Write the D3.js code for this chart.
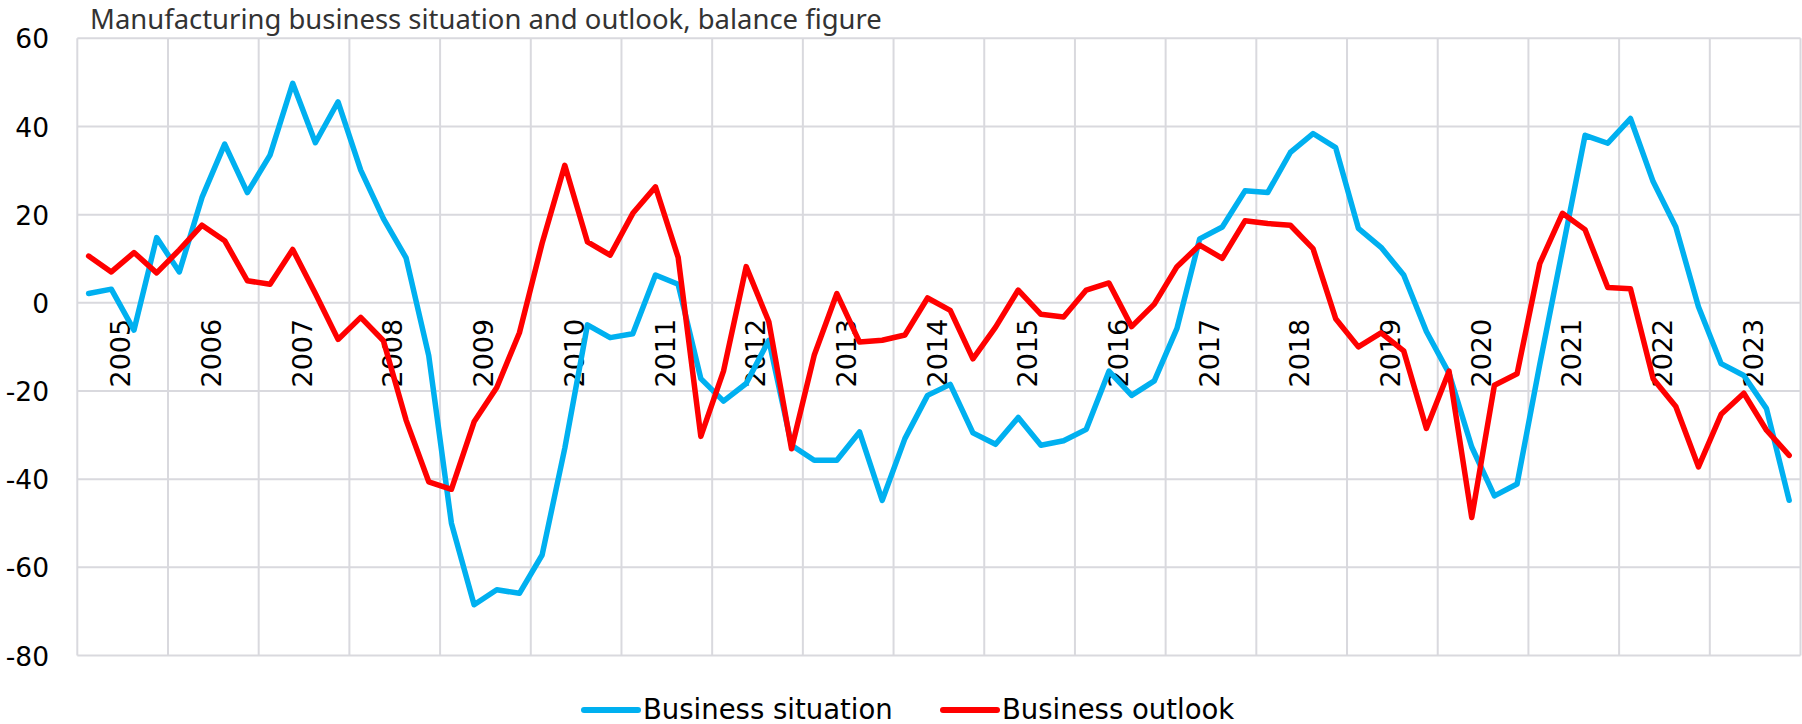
<!DOCTYPE html>
<html>
<head>
<meta charset="utf-8">
<script src="https://cdn.jsdelivr.net/npm/d3@7"></script>
<style>
  html, body { margin: 0; padding: 0; background: #ffffff; }
  svg { display: block; }
</style>
</head>
<body>
<svg id="chart" width="1802" height="724"></svg>
<script>
// ---------- data ----------
const years = ["2005","2006","2007","2008","2009","2010","2011","2012","2013","2014",
               "2015","2016","2017","2018","2019","2020","2021","2022","2023"];
const quarterNames = ["Q1","Q2","Q3","Q4"];

// Business situation (balance figure), quarterly 2005Q1 - 2023Q4
const situation = [
   2.1,   3.1,  -6.2,  14.8,    7.0,  23.9,  36.0,  25.0,
  33.5,  49.8,  36.3,  45.6,   30.1,  19.1,  10.2, -12.0,
 -50.0, -68.5, -65.1, -65.9,  -57.2, -33.0,  -5.0,  -7.9,
  -7.0,   6.3,   4.2, -17.2,  -22.3, -18.3,  -8.5, -32.3,
 -35.7, -35.7, -29.3, -44.8,  -30.8, -21.0, -18.5, -29.5,
 -32.1, -26.0, -32.3, -31.3,  -28.7, -15.5, -21.0, -17.7,
  -5.8,  14.5,  17.2,  25.4,   25.0,  34.1,  38.4,  35.2,
  16.9,  12.6,   6.3,  -6.5,  -16.0, -32.7, -43.8, -41.1,
 -14.0,  12.0,  38.0,  36.2,   41.8,  27.5,  17.2,  -0.9,
 -13.8, -16.5, -24.0, -44.8
];

// Business outlook (balance figure), quarterly 2005Q1 - 2023Q4
const outlook = [
  10.6,   7.0,  11.4,   6.8,   12.0,  17.6,  14.1,   5.0,
   4.2,  12.1,   2.1,  -8.3,   -3.3,  -8.6, -26.6, -40.6,
 -42.3, -27.0, -19.2,  -6.8,   13.5,  31.2,  13.8,  10.8,
  20.3,  26.3,  10.3, -30.3,  -15.5,   8.2,  -4.3, -33.1,
 -11.9,   2.1,  -8.9,  -8.5,   -7.3,   1.1,  -1.7, -12.7,
  -5.5,   2.9,  -2.6,  -3.2,    2.9,   4.5,  -5.4,  -0.3,
   8.2,  13.1,  10.1,  18.6,   18.0,  17.6,  12.3,  -3.6,
 -10.0,  -6.8, -10.9, -28.5,  -15.5, -48.7, -18.7, -16.1,
   8.9,  20.3,  16.6,   3.5,    3.2, -17.2, -23.5, -37.2,
 -25.3, -20.5, -28.9, -34.6
];

const yTicks = [-80, -60, -40, -20, 0, 20, 40, 60];
const seriesNames = ["Business situation", "Business outlook"];
const seriesColors = ["#00b0f0", "#ff0000"];
const titleText = "Manufacturing business situation and outlook, balance figure";

// ---------- layout ----------
const plot = { left: 77.3, right: 1800.5, top: 38.3, bottom: 655.5 };
const svg = d3.select("#chart");

const quarters = [];
years.forEach(y => quarterNames.forEach(q => quarters.push(y + q)));

const x = d3.scaleBand().domain(quarters).range([plot.left, plot.right]).padding(0);
const xYear = d3.scaleBand().domain(years).range([plot.left, plot.right]).padding(0);
const y = d3.scaleLinear().domain([-80, 60]).range([plot.bottom, plot.top]);

const gridColor = "#d9d9de";

// horizontal gridlines
svg.append("g").selectAll("line").data(yTicks).join("line")
  .attr("x1", plot.left).attr("x2", plot.right)
  .attr("y1", d => y(d)).attr("y2", d => y(d))
  .attr("stroke", gridColor).attr("stroke-width", 2);

// vertical gridlines at year boundaries
const yearEdges = years.map(d => xYear(d)).concat([plot.right]);
svg.append("g").selectAll("line").data(yearEdges).join("line")
  .attr("x1", d => d).attr("x2", d => d)
  .attr("y1", plot.top).attr("y2", plot.bottom)
  .attr("stroke", gridColor).attr("stroke-width", 2);

// y axis labels
const yAxis = d3.axisLeft(y).tickValues(yTicks).tickSize(0).tickPadding(0).tickFormat(d => String(d));
const gy = svg.append("g").attr("transform", `translate(${49},0)`).call(yAxis);
gy.select(".domain").remove();
gy.selectAll("text")
  .attr("font-family", "'DejaVu Sans', Verdana, sans-serif")
  .attr("font-size", 26.5).attr("fill", "#000").attr("dy", "0.36em");

// x axis labels (year, rotated), positioned at the zero line
const xAxis = d3.axisBottom(xYear).tickSize(0).tickPadding(0);
const gx = svg.append("g").attr("transform", `translate(-2,${y(0)})`).call(xAxis);
gx.select(".domain").remove();
gx.selectAll("text")
  .attr("font-family", "'DejaVu Sans', Verdana, sans-serif")
  .attr("font-size", 27).attr("fill", "#000")
  .attr("transform", "rotate(-90)")
  .attr("text-anchor", "end")
  .attr("x", -16).attr("y", 0).attr("dy", "0.36em");

// title
const title = svg.append("text")
  .attr("x", 90).attr("y", 28.5)
  .attr("font-family", "'Noto Sans', 'Open Sans', sans-serif")
  .attr("font-size", 26).attr("fill", "#333333")
  .text(titleText);
const tl = title.node().getComputedTextLength();
title.attr("font-size", 26 * 792 / tl);

// lines
const line = d3.line()
  .x((d, i) => x(quarters[i]) + x.bandwidth() / 2)
  .y(d => y(d));

[situation, outlook].forEach((s, k) => {
  svg.append("path").datum(s)
    .attr("d", line)
    .attr("fill", "none")
    .attr("stroke", seriesColors[k])
    .attr("stroke-width", 5.5)
    .attr("stroke-linejoin", "round")
    .attr("stroke-linecap", "round");
});

// legend
const legendItems = [
  { name: seriesNames[0], color: seriesColors[0], x1: 584, x2: 638, tx: 643 },
  { name: seriesNames[1], color: seriesColors[1], x1: 943, x2: 997, tx: 1002 }
];
const lg = svg.append("g");
legendItems.forEach(it => {
  lg.append("line").attr("x1", it.x1).attr("x2", it.x2).attr("y1", 710).attr("y2", 710)
    .attr("stroke", it.color).attr("stroke-width", 6).attr("stroke-linecap", "round");
  lg.append("text").attr("x", it.tx).attr("y", 719)
    .attr("font-family", "'DejaVu Sans', Verdana, sans-serif")
    .attr("font-size", 27.5).attr("fill", "#000")
    .text(it.name);
});
</script>
</body>
</html>
